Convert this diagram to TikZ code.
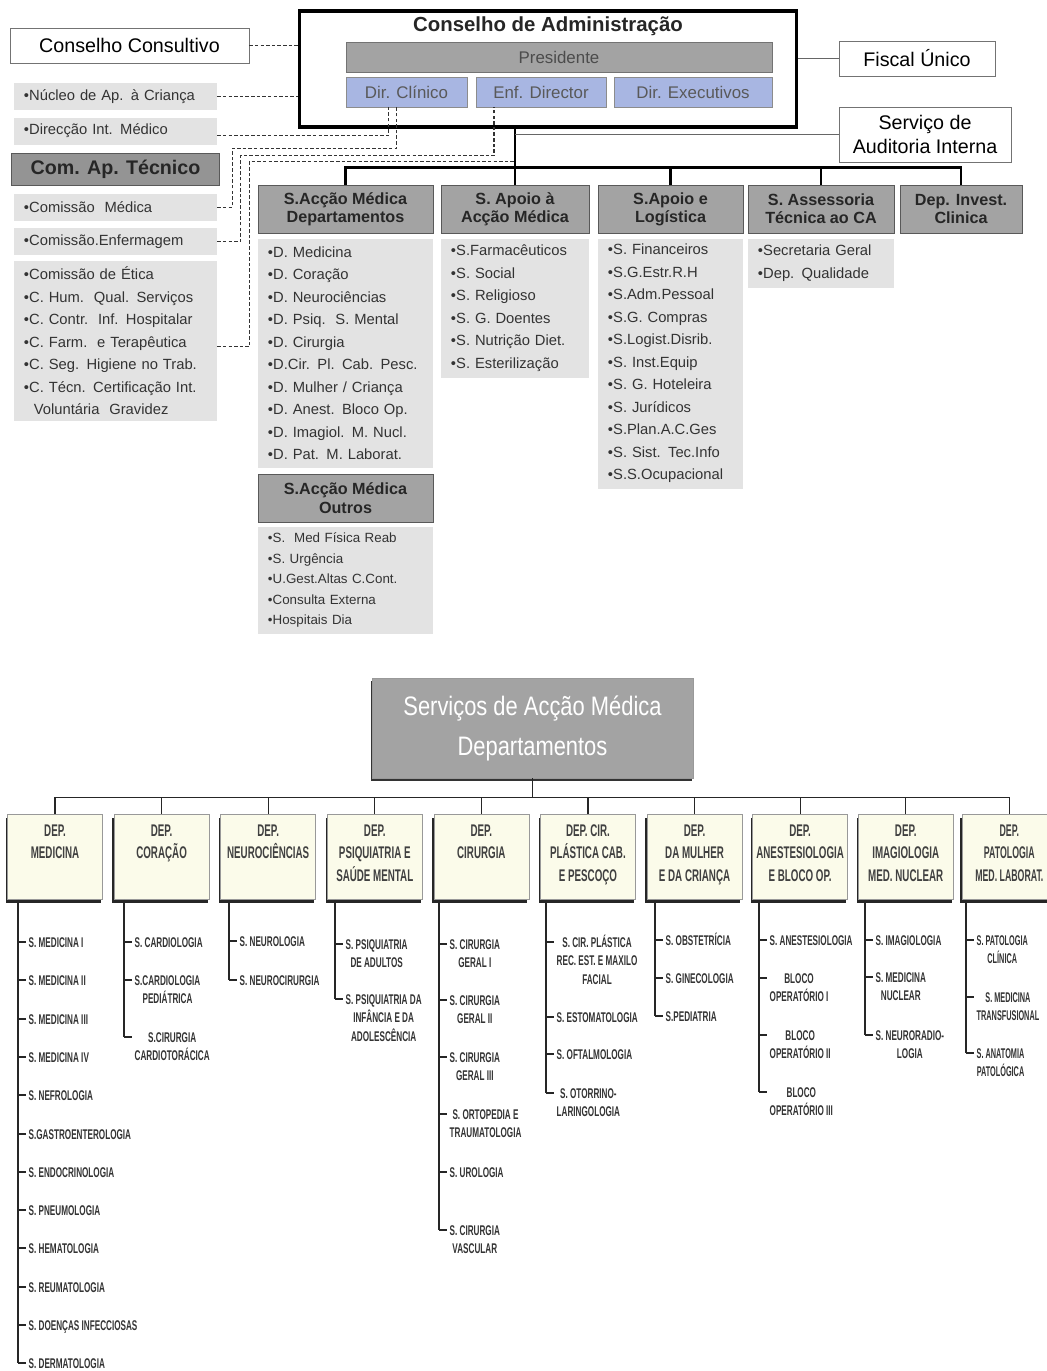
\documentclass[tikz,border=0pt]{standalone}
\usepackage{fontspec}
\setmainfont{Liberation Sans}
\newfontfamily\condfont[FakeStretch=0.58]{Liberation Sans}
\newfontfamily\tightfont[FakeStretch=0.52]{Liberation Sans}
\newfontfamily\narrowfont[FakeStretch=0.82]{Liberation Sans}
\usetikzlibrary{positioning,shadows}

\definecolor{dirblue}{HTML}{A8B6E2}
\definecolor{headgrey}{HTML}{A3A3A3}
\definecolor{listgrey}{HTML}{E3E3E3}
\definecolor{cream}{HTML}{FBFBEA}

\newcommand{\itemlines}[1]{\begin{tabular}[t]{@{}c@{}}#1\end{tabular}}
\newcommand{\deptext}[1]{\parbox[c][1.625cm][t]{2.275cm}{\centering #1}}

\begin{document}
\begin{tikzpicture}[x=0.025cm, y=-0.025cm,
                    outbox/.style={draw=black!55, fill=white, inner sep=0pt, font=\fontsize{14}{17}\selectfont},
                    listbox/.style={fill=listgrey, align=left, inner xsep=0.25cm, inner ysep=0pt, text=black!80, font=\fontsize{10.5}{16}\selectfont},
                    sidebox/.style={listbox, text width=4.575cm, minimum height=0.675cm},
                    headbox/.style={draw=black!65, fill=headgrey, align=center, inner sep=0pt, minimum height=1.2cm, text=black!85, font=\bfseries\fontsize{11.5}{13}\selectfont},
                    dirbox/.style={draw=black!45, fill=dirblue, inner sep=0pt, minimum height=0.75cm, text=black!65, font=\fontsize{12}{14}\selectfont},
                    dashline/.style={black!80, line width=0.8pt, dash pattern=on 2.5pt off 1.5pt},
                    tree/.style={black, line width=2pt},
                    thinline/.style={black!60, line width=0.8pt},
                    depbox/.style={draw=black!40, fill=cream, inner xsep=0.05cm, inner ysep=0.25cm, text=black!75, font=\condfont\bfseries\fontsize{12}{16}\selectfont,
                                   drop shadow={shadow xshift=-0.04cm, shadow yshift=-0.08cm, fill=black!85, opacity=1}},
                    deptree/.style={black!85, line width=0.9pt},
                    servitem/.style={anchor=base west, inner xsep=0.06cm, inner ysep=0pt, text=black!80, font=\condfont\bfseries\fontsize{10}{13.3}\selectfont}]
    \useasboundingbox (0,0) rectangle (1046,1371);

    % board
    \node[draw=black, line width=2.2pt, minimum width=12.4cm, minimum height=2.9cm, inner sep=0pt] (adm) at (548,69) {};
    \node[text=black!85, font=\bfseries\fontsize{14.5}{16}\selectfont] (admtitle) at (548,26) {Conselho de Administração};
    \node[draw=black!55, fill=headgrey, text=black!70, minimum width=10.65cm, minimum height=0.75cm, inner sep=0pt, font=\fontsize{12}{14}\selectfont] (pres) at (559,57) {Presidente};
    \node[dirbox, minimum width=3.025cm] (dclin)  at (406.5,92) {Dir. Clínico};
    \node[dirbox, minimum width=3.25cm]  (enfdir) at (541,92)   {Enf. Director};
    \node[dirbox, minimum width=3.95cm]  (dexec)  at (693,92)   {Dir. Executivos};
    \node[outbox, minimum width=5.975cm, minimum height=0.875cm] (consult) at (129.5,45.5) {Conselho Consultivo};
    \node[outbox, minimum width=3.9cm, minimum height=0.875cm]   (fiscal)  at (917,58.5)   {Fiscal Único};
    \node[outbox, align=center, minimum width=4.3cm, minimum height=1.375cm] (audit) at (925,134.5) {Serviço de\\Auditoria Interna};

    % left column
    \node[sidebox] (nucleo) at (115.5,96.5)            {•Núcleo de Ap. à Criança};
    \node[sidebox] (direc)  [below=0.175cm of nucleo]  {•Direcção Int. Médico};
    \node[headbox, fill=black!42, minimum width=5.2cm, minimum height=0.8cm, font=\bfseries\fontsize{14}{16}\selectfont] (comtec) [below=0.2cm of direc] {Com. Ap. Técnico};
    \node[sidebox] (commed) [below=0.2cm of comtec]    {•Comissão\ \ Médica};
    \node[sidebox] (comenf) [below=0.175cm of commed]  {•Comissão.Enfermagem};
    \node[sidebox, minimum height=4.0cm] (comlist) [below=0.125cm of comenf]
        {•Comissão de Ética\\•C. Hum.\ \ Qual. Serviços\\•C. Contr.\ \ Inf. Hospitalar\\•C. Farm.\ \ e Terapêutica\\•C. Seg. Higiene no Trab.\\•C. Técn. Certificação Int.\\\ \ Voluntária\ \ Gravidez};

    % services
    \node[headbox, minimum width=4.375cm] (sam) at (345.5,209) {S.Acção Médica\\Departamentos};
    \node[listbox, text width=3.875cm, minimum height=5.725cm] (samlist) [below=0.125cm of sam]
        {•D. Medicina\\•D. Coração\\•D. Neurociências\\•D. Psiq.\ \ S. Mental\\•D. Cirurgia\\•D.Cir. Pl. Cab. Pesc.\\•D. Mulher / Criança\\•D. Anest. Bloco Op.\\•D. Imagiol. M. Nucl.\\•D. Pat. M. Laborat.};
    \node[headbox, minimum width=4.375cm] (samo) [below=0.15cm of samlist] {S.Acção Médica\\Outros};
    \node[listbox, text width=3.875cm, minimum height=2.675cm, font=\fontsize{9.5}{14.6}\selectfont] (samolist) [below=0.1cm of samo]
        {•S.\ \ Med Física Reab\\•S. Urgência\\•U.Gest.Altas C.Cont.\\•Consulta Externa\\•Hospitais Dia};
    \node[headbox, minimum width=3.7cm] (saam) at (515,209) {S. Apoio à\\Acção Médica};
    \node[listbox, text width=3.2cm, minimum height=3.475cm] (saamlist) [below=0.125cm of saam]
        {•S.Farmacêuticos\\•S. Social\\•S. Religioso\\•S. G. Doentes\\•S. Nutrição Diet.\\•S. Esterilização};
    \node[headbox, minimum width=3.625cm] (sal) at (670.5,209) {S.Apoio e\\Logística};
    \node[listbox, text width=3.125cm, minimum height=6.25cm] (sallist) [below=0.125cm of sal]
        {•S. Financeiros\\•S.G.Estr.R.H\\•S.Adm.Pessoal\\•S.G. Compras\\•S.Logist.Disrib.\\•S. Inst.Equip\\•S. G. Hoteleira\\•S. Jurídicos\\•S.Plan.A.C.Ges\\•S. Sist. Tec.Info\\•S.S.Ocupacional};
    \node[headbox, minimum width=3.65cm] (sat) at (821,209) {S. Assessoria\\Técnica ao CA};
    \node[listbox, text width=3.15cm, minimum height=1.225cm] (satlist) [below=0.125cm of sat] {•Secretaria Geral\\•Dep. Qualidade};
    \node[headbox, minimum width=3.05cm] (dic) at (961,209) {Dep. Invest.\\Clinica};

    % lines
    \draw[tree] (adm.south -| saam.north) -- (saam.north);
    \draw[tree] (sam.north) -- ++(0,-17) -| (dic.north);
    \draw[tree] (sal.north) -- ++(0,-17);
    \draw[tree] (sat.north) -- ++(0,-17);
    \draw[thinline] (fiscal.west) -- (fiscal.west -| adm.east);
    \draw[thinline] (audit.west) -- (audit.west -| saam.north);
    \draw[dashline] (consult.east) -- (consult.east -| adm.west);
    \draw[dashline] (nucleo.east) -- (nucleo.east -| adm.west);
    \draw[dashline] ([yshift=-0.12cm]direc.east) -| ([xshift=-0.45cm]dclin.south);
    \draw[dashline] (commed.east) -- ++(15,0) -- ++(0,-59) -| ([xshift=-0.25cm]dclin.south);
    \draw[dashline] (comenf.east) -- ++(23,0) -- ++(0,-86) -| ([xshift=-1.175cm]enfdir.south);
    \draw[dashline] ([yshift=-0.15cm]comlist.east) -- ++(32,0) -- ++(0,-185) -- ++(266,0);

    % departments
    \node[fill=headgrey, draw=black!40, minimum width=8.025cm, minimum height=2.5cm, text=white, align=center, font=\narrowfont\fontsize{19}{28.5}\selectfont,
          drop shadow={shadow xshift=-0.03cm, shadow yshift=-0.07cm, fill=black!80, opacity=1}] (sdep) at (532.5,728) {Serviços de Acção Médica\\Departamentos};
    \node[depbox] (dmed) at (55,857)             {\deptext{DEP.\\MEDICINA}};
    \node[depbox] (dcor) [right=0.275cm of dmed] {\deptext{DEP.\\CORAÇÃO}};
    \node[depbox] (dneu) [right=0.275cm of dcor] {\deptext{DEP.\\NEUROCIÊNCIAS}};
    \node[depbox] (dpsi) [right=0.275cm of dneu] {\deptext{DEP.\\PSIQUIATRIA E\\SAÚDE MENTAL}};
    \node[depbox] (dcir) [right=0.275cm of dpsi] {\deptext{DEP.\\CIRURGIA}};
    \node[depbox] (dpla) [right=0.275cm of dcir] {\deptext{DEP. CIR.\\PLÁSTICA CAB.\\E PESCOÇO}};
    \node[depbox] (dmul) [right=0.275cm of dpla] {\deptext{DEP.\\DA MULHER\\E DA CRIANÇA}};
    \node[depbox] (dane) [right=0.25cm of dmul]  {\deptext{DEP.\\ANESTESIOLOGIA\\E BLOCO OP.}};
    \node[depbox] (dima) [right=0.25cm of dane]  {\deptext{DEP.\\IMAGIOLOGIA\\MED. NUCLEAR}};
    \node[depbox, font=\tightfont\bfseries\fontsize{12}{16}\selectfont] (dpat) [right=0.2cm of dima] {\deptext{DEP.\\PATOLOGIA\\MED. LABORAT.}};
    \draw[deptree] (sdep.south) -- ++(0,20);
    \draw[deptree] (dmed.north) -- ++(0,-17) -| (dpat.north);
    \foreach \n in {dcor,dneu,dpsi,dcir,dpla,dmul,dane,dima}
        \draw[deptree] (\n.north) -- ++(0,-17);

    % services of each department
    \draw[deptree] (dmed.south -| 18,0) -- (18,1363);
    \foreach \y/\t [count=\k] in {942/S. MEDICINA I, 980/S. MEDICINA II, 1019/S. MEDICINA III, 1057/S. MEDICINA IV, 1095/S. NEFROLOGIA,
                                   1134/S.GASTROENTEROLOGIA, 1172/S. ENDOCRINOLOGIA, 1210/S. PNEUMOLOGIA, 1248/S. HEMATOLOGIA,
                                   1287/S. REUMATOLOGIA, 1325/S. DOENÇAS INFECCIOSAS, 1363/S. DERMATOLOGIA} {
        \node[servitem] (dmed\k) at (26,\y+5) {\itemlines{\t}};
        \coordinate (tick) at (18,\y);
        \draw[deptree] (tick) -- (tick -| dmed\k.west);
    }
    \draw[deptree] (dcor.south -| 124,0) -- (124,1037);
    \foreach \y/\t [count=\k] in {942/S. CARDIOLOGIA, 980/S.CARDIOLOGIA\\PEDIÁTRICA, 1037/S.CIRURGIA\\CARDIOTORÁCICA} {
        \node[servitem] (dcor\k) at (132,\y+5) {\itemlines{\t}};
        \coordinate (tick) at (124,\y);
        \draw[deptree] (tick) -- (tick -| dcor\k.west);
    }
    \draw[deptree] (dneu.south -| 229,0) -- (229,980);
    \foreach \y/\t [count=\k] in {941/S. NEUROLOGIA, 980/S. NEUROCIRURGIA} {
        \node[servitem] (dneu\k) at (237,\y+5) {\itemlines{\t}};
        \coordinate (tick) at (229,\y);
        \draw[deptree] (tick) -- (tick -| dneu\k.west);
    }
    \draw[deptree] (dpsi.south -| 335,0) -- (335,999);
    \foreach \y/\t [count=\k] in {944/S. PSIQUIATRIA\\DE ADULTOS, 999/S. PSIQUIATRIA DA\\INFÂNCIA E DA\\ADOLESCÊNCIA} {
        \node[servitem] (dpsi\k) at (343,\y+5) {\itemlines{\t}};
        \coordinate (tick) at (335,\y);
        \draw[deptree] (tick) -- (tick -| dpsi\k.west);
    }
    \draw[deptree] (dcir.south -| 439,0) -- (439,1230);
    \foreach \y/\t [count=\k] in {944/S. CIRURGIA\\GERAL I, 1000/S. CIRURGIA\\GERAL II, 1057/S. CIRURGIA\\GERAL III,
                                   1114/S. ORTOPEDIA E\\TRAUMATOLOGIA, 1172/S. UROLOGIA, 1230/S. CIRURGIA\\VASCULAR} {
        \node[servitem] (dcir\k) at (447,\y+5) {\itemlines{\t}};
        \coordinate (tick) at (439,\y);
        \draw[deptree] (tick) -- (tick -| dcir\k.west);
    }
    \draw[deptree] (dpla.south -| 546,0) -- (546,1093);
    \foreach \y/\t [count=\k] in {942/S. CIR. PLÁSTICA\\REC. EST. E MAXILO\\FACIAL, 1017/S. ESTOMATOLOGIA, 1054/S. OFTALMOLOGIA,
                                   1093/S. OTORRINO-\\LARINGOLOGIA} {
        \node[servitem] (dpla\k) at (554,\y+5) {\itemlines{\t}};
        \coordinate (tick) at (546,\y);
        \draw[deptree] (tick) -- (tick -| dpla\k.west);
    }
    \draw[deptree] (dmul.south -| 655,0) -- (655,1016);
    \foreach \y/\t [count=\k] in {940/S. OBSTETRÍCIA, 978/S. GINECOLOGIA, 1016/S.PEDIATRIA} {
        \node[servitem] (dmul\k) at (663,\y+5) {\itemlines{\t}};
        \coordinate (tick) at (655,\y);
        \draw[deptree] (tick) -- (tick -| dmul\k.west);
    }
    \draw[deptree] (dane.south -| 759,0) -- (759,1092);
    \foreach \y/\t [count=\k] in {940/S. ANESTESIOLOGIA, 978/BLOCO\\OPERATÓRIO I, 1035/BLOCO\\OPERATÓRIO II, 1092/BLOCO\\OPERATÓRIO III} {
        \node[servitem] (dane\k) at (767,\y+5) {\itemlines{\t}};
        \coordinate (tick) at (759,\y);
        \draw[deptree] (tick) -- (tick -| dane\k.west);
    }
    \draw[deptree] (dima.south -| 865,0) -- (865,1035);
    \foreach \y/\t [count=\k] in {940/S. IMAGIOLOGIA, 977/S. MEDICINA\\NUCLEAR, 1035/S. NEURORADIO-\\LOGIA} {
        \node[servitem] (dima\k) at (873,\y+5) {\itemlines{\t}};
        \coordinate (tick) at (865,\y);
        \draw[deptree] (tick) -- (tick -| dima\k.west);
    }
    \draw[deptree] (dpat.south -| 966,0) -- (966,1053);
    \foreach \y/\t [count=\k] in {940/S. PATOLOGIA\\CLÍNICA, 997/S. MEDICINA\\TRANSFUSIONAL, 1053/S. ANATOMIA\\PATOLÓGICA} {
        \node[servitem, font=\tightfont\bfseries\fontsize{10}{13.3}\selectfont] (dpat\k) at (974,\y+5) {\itemlines{\t}};
        \coordinate (tick) at (966,\y);
        \draw[deptree] (tick) -- (tick -| dpat\k.west);
    }
\end{tikzpicture}
\end{document}
